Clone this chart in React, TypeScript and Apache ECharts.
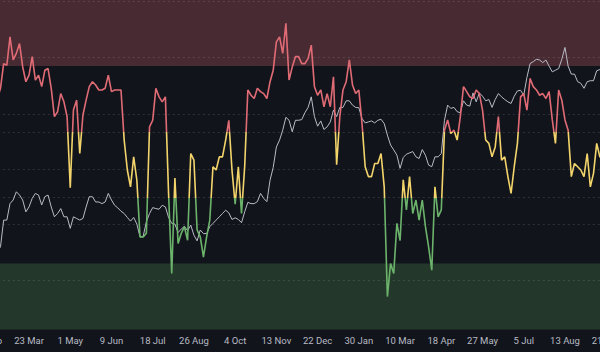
import React, { useEffect, useRef } from "react";
import * as echarts from "echarts";

// ---- data ----
const START_UTC = Date.UTC(2022, 1, 12); // first category: 12 Feb 2022
const STEP_DAYS = 3;
const TICK_EVERY = 13; // a label every 13 categories (~39 days)
const MONTHS = ["Jan", "Feb", "Mar", "Apr", "May", "Jun", "Jul", "Aug", "Sep", "Oct", "Nov", "Dec"];

// oscillator (0-100)
const INDICATOR = [
  68, 70, 72, 70, 73.2, 80.7, 80.2, 88.8, 81.8, 83.8,
  86.8, 79.7, 75.2, 77.2, 82.8, 75.7, 77.2, 73.7, 78.7, 79.2,
  73.2, 64.6, 66.1, 71.6, 69.1, 64.6, 43, 66.6, 69.6, 53.4,
  65.1, 69.6, 73.7, 75.2, 74.2, 72.7, 72.7, 73.2, 77.2, 72.2,
  72.7, 72.7, 72.7, 57.5, 48.4, 43.3, 52.4, 45.3, 28.1, 28.1,
  29.2, 61.5, 63.5, 73.2, 70.6, 69.1, 70.6, 41.3, 17, 46,
  26.1, 29.2, 31.2, 27.1, 53.4, 51.4, 30.2, 28.1, 22, 28.1,
  33.2, 49.4, 48.4, 52.4, 52.4, 57.5, 63.5, 48.4, 38, 49.4,
  35.2, 49.4, 72.7, 71.1, 70.1, 73.2, 72.2, 71.6, 70.1, 75.2,
  78.7, 87.3, 88.8, 83.8, 92.9, 75.7, 79.7, 82.8, 82.8, 80.7,
  80.7, 82.3, 86.3, 73.7, 71.1, 72.7, 67.6, 71.6, 67.6, 76.7,
  50, 64.6, 72.7, 75.2, 81.8, 74.2, 71.6, 72.7, 62.5, 49.4,
  46.4, 46.4, 50.4, 50.4, 53.4, 43.3, 10, 20, 17, 32.2,
  27, 45.4, 36.3, 46.4, 35.2, 39.3, 33.2, 39.3, 31.2, 25.1,
  18, 43.3, 34.2, 36.3, 60.5, 63.6, 59.5, 60.5, 57.5, 64.6,
  73.7, 72.2, 70.6, 70.1, 72.7, 71.6, 66.6, 57.5, 56.5, 52.4,
  55.4, 64.6, 51.4, 52.4, 46.4, 41.3, 49.4, 56.5, 70.6, 71.6,
  66.6, 76.2, 73.7, 72.7, 71.1, 71.6, 70.1, 72.2, 63.6, 56.5,
  72.7, 69.6, 63.6, 60.5, 46.4, 50.4, 49.4, 48.4, 46.4, 53.4,
  43.3, 47.4, 56.5, 52.4, 52, 50,
];

// price (scaled 0-100)
const PRICE = [
  22, 22, 23, 23.5, 25.1, 33.2, 33.2, 38.2, 39.3, 41.8,
  40.8, 39.3, 35.7, 37.2, 39.8, 41.3, 40.8, 37.8, 40.3, 40.8,
  37.2, 34.2, 35.2, 36.7, 34.2, 34.2, 30.7, 34.2, 33.7, 33.2,
  33.7, 37.2, 40.3, 40.3, 38.7, 38.7, 38.2, 38.7, 41.3, 39.3,
  37.7, 36.9, 35.9, 35.2, 34.0, 32.9, 34.0, 32.0, 28.1, 28.3,
  32.7, 35.2, 37.0, 36.7, 36.5, 37.7, 37.2, 34.0, 32.2, 32.0,
  29.4, 30.5, 31.3, 30.0, 31.7, 28.6, 26.9, 30.2, 29.1, 29.1,
  31.2, 32.2, 33.2, 34.2, 35.2, 36.2, 35.4, 33.4, 33.9, 33.4,
  32.4, 35.7, 38.6, 38.2, 38.2, 38.8, 41.3, 39.8, 38.8, 45.3,
  49.2, 55.4, 57.5, 60.5, 64.4, 63.5, 60.0, 63.5, 63.5, 63.7,
  65.8, 67.4, 70.6, 64.6, 61.7, 63.3, 60.7, 61.5, 63.0, 66.6,
  64.6, 67.4, 67.4, 69.4, 69.4, 68.1, 67.4, 67.3, 64.0, 62.7,
  63.0, 63.3, 62.7, 63.5, 63.8, 62.5, 59.0, 56.0, 54.5, 52.9,
  48.9, 52.2, 53.2, 53.6, 54.0, 52.4, 51.9, 54.6, 52.9, 49.9,
  49.4, 52.4, 52.4, 53.4, 63.5, 68.1, 67.1, 67.4, 66.1, 65.8,
  69.4, 68.1, 67.8, 71.8, 69.1, 71.8, 70.8, 69.4, 69.8, 67.4,
  69.8, 71.6, 70.6, 69.8, 69.1, 68.6, 70.8, 72.4, 72.6, 71.1,
  76.5, 80.7, 81.3, 82.0, 81.8, 81.0, 81.8, 79.9, 78.2, 78.7,
  79.2, 82.0, 85.6, 79.9, 77.5, 77.5, 75.2, 74.7, 73.2, 75.2,
  75.5, 75.5, 78.5, 78.9, 78, 77,
];

const ZONE_HIGH = [80, 100];
const ZONE_LOW = [0, 20];
const THRESHOLD_LOW = 40;
const THRESHOLD_HIGH = 60;
const LEVELS = [99.5, 82.6, 65.4, 60, 48.7, 40, 32, 15];

// category dates (one-day shift after early Oct so ticks land on the shown dates)
const DATES: string[] = INDICATOR.map((_, i) => {
  const extra = i >= 85 ? 1 : 0;
  const d = new Date(START_UTC + (i * STEP_DAYS + extra) * 86400000);
  return d.toISOString().slice(0, 10);
});

function fmtDate(s: string): string {
  const d = new Date(s + "T00:00:00Z");
  return d.getUTCDate() + " " + MONTHS[d.getUTCMonth()];
}

const BG = "#12141c";
const RED = "#e06b75";
const YELLOW = "#f2d46b";
const GREEN = "#6bb36a";

export default function App() {
  const ref = useRef<HTMLDivElement>(null);

  useEffect(() => {
    document.body.style.margin = "0";
    document.body.style.background = BG;
    if (!ref.current) return;
    const chart = echarts.init(ref.current, undefined, { renderer: "svg" });
    const dashStyle = { type: [2, 3] as any, color: "rgba(200,205,215,0.16)", width: 1 };
    chart.setOption({
      animation: false,
      backgroundColor: BG,
      grid: { left: -12.2, right: -6.2, top: 0, bottom: 22.5, outerBoundsMode: "none" },
      xAxis: {
        type: "category",
        data: DATES,
        boundaryGap: false,
        axisLine: { show: false },
        axisTick: { show: false },
        splitLine: { show: false },
        axisLabel: {
          interval: (i: number) => i % TICK_EVERY === 0,
          formatter: (v: string) => fmtDate(v),
          color: "#b7bbc3",
          fontSize: 9.5,
          fontFamily: "Roboto, 'Liberation Sans', sans-serif",
          margin: 6,
        },
      },
      yAxis: [
        { type: "value", min: 0, max: 100, show: false, splitLine: { show: false } },
        { type: "value", min: 0, max: 100, show: false, splitLine: { show: false } },
      ],
      visualMap: {
        type: "piecewise",
        show: false,
        seriesIndex: 2,
        dimension: 1,
        pieces: [
          { gt: THRESHOLD_HIGH, color: RED },
          { gt: THRESHOLD_LOW, lte: THRESHOLD_HIGH, color: YELLOW },
          { lte: THRESHOLD_LOW, color: GREEN },
        ],
      },
      series: [
        {
          name: "Zones",
          type: "line",
          yAxisIndex: 0,
          data: [],
          z: 1,
          silent: true,
          markArea: {
            silent: true,
            data: [
              [
                { yAxis: ZONE_HIGH[0], itemStyle: { color: "#482a33" } },
                { yAxis: ZONE_HIGH[1] },
              ],
              [
                { yAxis: ZONE_LOW[0], itemStyle: { color: "#23382a" } },
                { yAxis: ZONE_LOW[1] },
              ],
            ],
          },
          markLine: {
            silent: true,
            symbol: "none",
            label: { show: false },
            lineStyle: dashStyle,
            data: LEVELS.map((v) => ({ yAxis: v })),
          },
        },
        {
          name: "Price",
          type: "line",
          yAxisIndex: 1,
          data: PRICE,
          showSymbol: false,
          z: 10,
          lineStyle: { color: "#b9bcc6", width: 1 },
        },
        {
          name: "Indicator",
          type: "line",
          yAxisIndex: 0,
          data: INDICATOR,
          showSymbol: false,
          z: 11,
          lineStyle: { width: 1.6 },
        },
      ],
    });
    return () => chart.dispose();
  }, []);

  return <div ref={ref} style={{ width: 600, height: 352 }} />;
}
